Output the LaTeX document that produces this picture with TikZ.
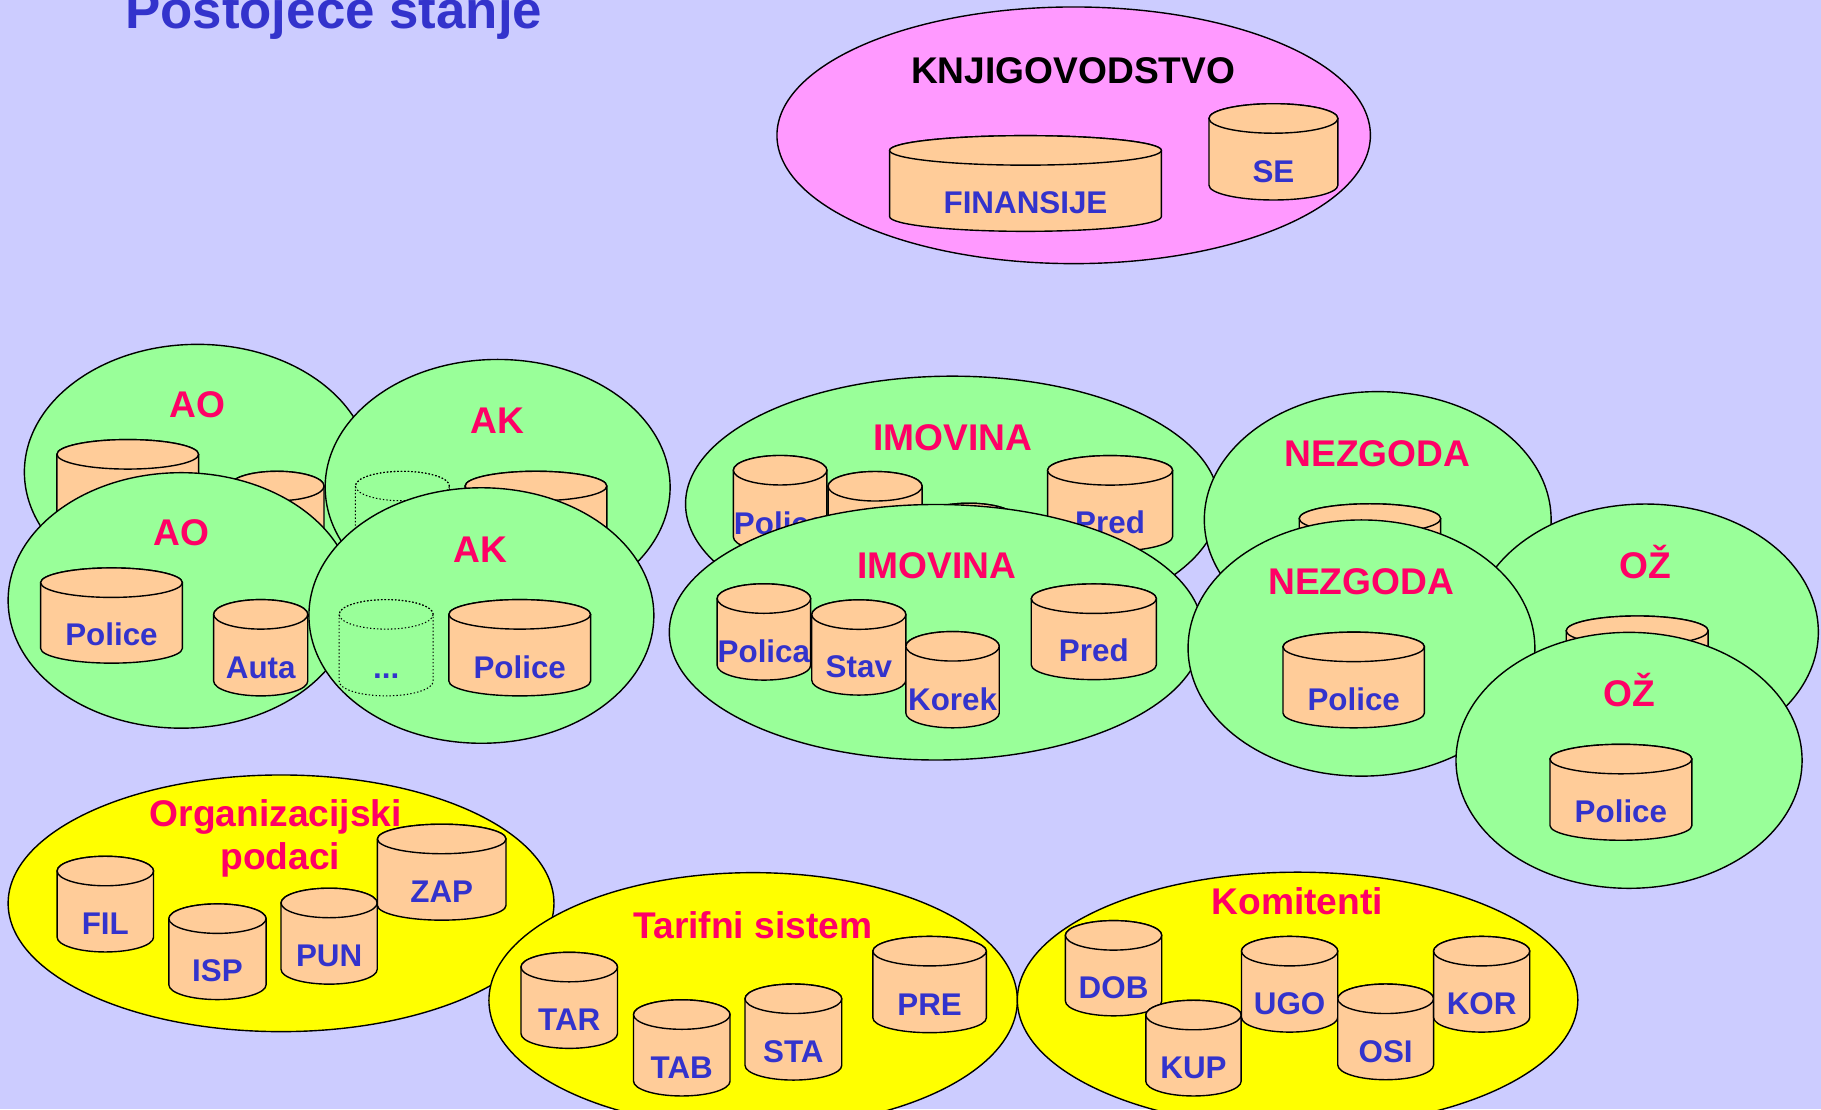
\documentclass[tikz,border=0pt]{standalone}
\usepackage{fontspec}
\setmainfont{Liberation Sans}
\definecolor{bgc}{HTML}{CCCCFF}
\definecolor{grn}{HTML}{99FF99}
\definecolor{pnk}{HTML}{FF99FF}
\definecolor{ylw}{HTML}{FFFF00}
\definecolor{cylc}{HTML}{FFCC99}
\definecolor{ttl}{HTML}{FF0066}
\definecolor{blu}{HTML}{3333CC}
\tikzset{
  cylst/.style={draw=black,line width=1.2pt,fill=cylc},
  dotcyl/.style={draw=black,line width=0.9pt,dash pattern=on 1.2pt off 1.8pt},
  lbl/.style={font=\fontsize{27}{30}\selectfont\bfseries,text=blu,inner sep=0pt,anchor=base},
  grp/.style={font=\fontsize{32}{37.5}\selectfont\bfseries,text=ttl,inner sep=0pt,anchor=base},
  blob/.style={draw=black,line width=1.2pt},
}
% #1 style, #2 name, #3 x-left, #4 x-right, #5 top centre y, #6 bottom centre y, #7 label
\newcommand\cyl[7][cylst]{%
  \pgfmathsetmacro\cylcx{(#3+#4)/2}%
  \pgfmathsetmacro\cylrx{(#4-#3)/2}%
  \path[#1] (#3,#5) -- (#3,#6) arc[start angle=180,end angle=360,x radius=\cylrx pt,y radius=12.7pt]
     -- (#4,#5) arc[start angle=0,end angle=180,x radius=\cylrx pt,y radius=12.7pt] -- cycle;
  \path[#1] (\cylcx,#5) ellipse[x radius=\cylrx pt,y radius=12.7pt];
  \node[lbl] (#2) at (\cylcx,#6-2.5) {#7};
}
\newcommand\grpAO[1]{%
  \draw[blob,fill=grn] (156,517) ellipse[x radius=149pt,y radius=110pt];
  \node[grp] (#1ao) at (156,470) {AO};
  \cyl{#1aopol}{35}{157}{501.7}{558.3}{Police}
  \cyl{#1aoaut}{184}{265}{529}{586.5}{Auta}
}
\newcommand\grpAK[1]{%
  \draw[blob,fill=grn] (414.5,530) ellipse[x radius=148.5pt,y radius=110pt];
  \node[grp] (#1ak) at (414,484) {AK};
  \cyl[dotcyl]{#1akdot}{292}{373}{529}{586.5}{...}
  \cyl{#1akpol}{386.5}{508.5}{529}{586.5}{Police}
}
\newcommand\grpIM[1]{%
  \draw[blob,fill=grn] (806,544.4) ellipse[x radius=229.7pt,y radius=110pt];
  \node[grp] (#1im) at (806.6,498) {IMOVINA};
  \cyl{#1impol}{617.5}{698}{515.4}{572.9}{Polica}
  \cyl{#1imsta}{699}{780}{529.2}{585.8}{Stav}
  \cyl{#1imkor}{780}{860.4}{556.5}{614}{Korek}
  \cyl{#1impre}{888}{995.7}{515.5}{572.5}{Pred}
}
\newcommand\grpNE[1]{%
  \draw[blob,fill=grn] (1172.3,558) ellipse[x radius=149.3pt,y radius=110.3pt];
  \node[grp] (#1ne) at (1172,511.8) {NEZGODA};
  \cyl{#1nepol}{1104.7}{1226.5}{557}{614}{Police}
}
\newcommand\grpOZ[1]{%
  \draw[blob,fill=grn] (1402.7,654.7) ellipse[x radius=149pt,y radius=110.2pt];
  \node[grp] (#1oz) at (1402.7,608.5) {OŽ};
  \cyl{#1ozpol}{1334.6}{1456.8}{653.6}{710.8}{Police}
}
\begin{document}
\begin{tikzpicture}[x={(1pt,0)},y={(0,-1pt)}]
  \useasboundingbox (0,0) rectangle (1568,955);
  \fill[bgc] (0,0) rectangle (1568,955);
  \clip (0,0) rectangle (1568,955);
  % title
  \node[font=\fontsize{45.5}{50}\selectfont\bfseries,text=blu,inner sep=0pt,anchor=base] (title) at (287.3,24.4) {Postojeće stanje};
  % Knjigovodstvo
  \draw[blob,fill=pnk] (924.5,116.5) ellipse[x radius=255.5pt,y radius=110.5pt];
  \node[grp,text=black] (knj) at (924,71.7) {KNJIGOVODSTVO};
  \cyl{fin}{766}{1000}{129.5}{186.5}{FINANSIJE}
  \cyl{se}{1041}{1152}{102}{159.5}{SE}
  % back layer
  \begin{scope}[shift={(14,-110.5)}]
    \grpAO{b}\grpAK{b}\grpIM{b}\grpNE{b}\grpOZ{b}
  \end{scope}
  % front layer
  \grpAO{f}\grpAK{f}\grpIM{f}\grpNE{f}\grpOZ{f}
  % Organizacijski podaci
  \draw[blob,fill=ylw] (242,777.8) ellipse[x radius=235pt,y radius=110.5pt];
  \cyl{fil}{49.2}{132.2}{750}{807}{FIL}
  \cyl{isp}{145.4}{229.1}{791}{848}{ISP}
  \cyl{pun}{242}{324.8}{777.5}{834.7}{PUN}
  \cyl{zap}{325}{435.7}{722.4}{779.6}{ZAP}
  \node[grp] (org1) at (237.4,711.8) {Organizacijski};
  \node[grp] (org2) at (241.4,749) {podaci};
  % Tarifni sistem
  \draw[blob,fill=ylw] (648.5,861.4) ellipse[x radius=227.5pt,y radius=110pt];
  \node[grp] (tar) at (648.3,808) {Tarifni sistem};
  \cyl{tarc}{448.6}{531.7}{832.7}{890}{TAR}
  \cyl{tab}{545.5}{628.6}{873.6}{931}{TAB}
  \cyl{sta}{641.5}{724.8}{860}{917.3}{STA}
  \cyl{pre}{751.6}{849.3}{819}{876.5}{PRE}
  % Komitenti
  \draw[blob,fill=ylw] (1117.3,861) ellipse[x radius=241.3pt,y radius=110pt];
  \node[grp] (kom) at (1117,787.8) {Komitenti};
  \cyl{dob}{917.4}{1000.3}{805.4}{862}{DOB}
  \cyl{kup}{986.6}{1068.7}{874}{931}{KUP}
  \cyl{ugo}{1069}{1151.9}{819}{876}{UGO}
  \cyl{osi}{1151.9}{1234.4}{860}{917}{OSI}
  \cyl{kor}{1234.4}{1317.2}{819}{876}{KOR}
\end{tikzpicture}
\end{document}
